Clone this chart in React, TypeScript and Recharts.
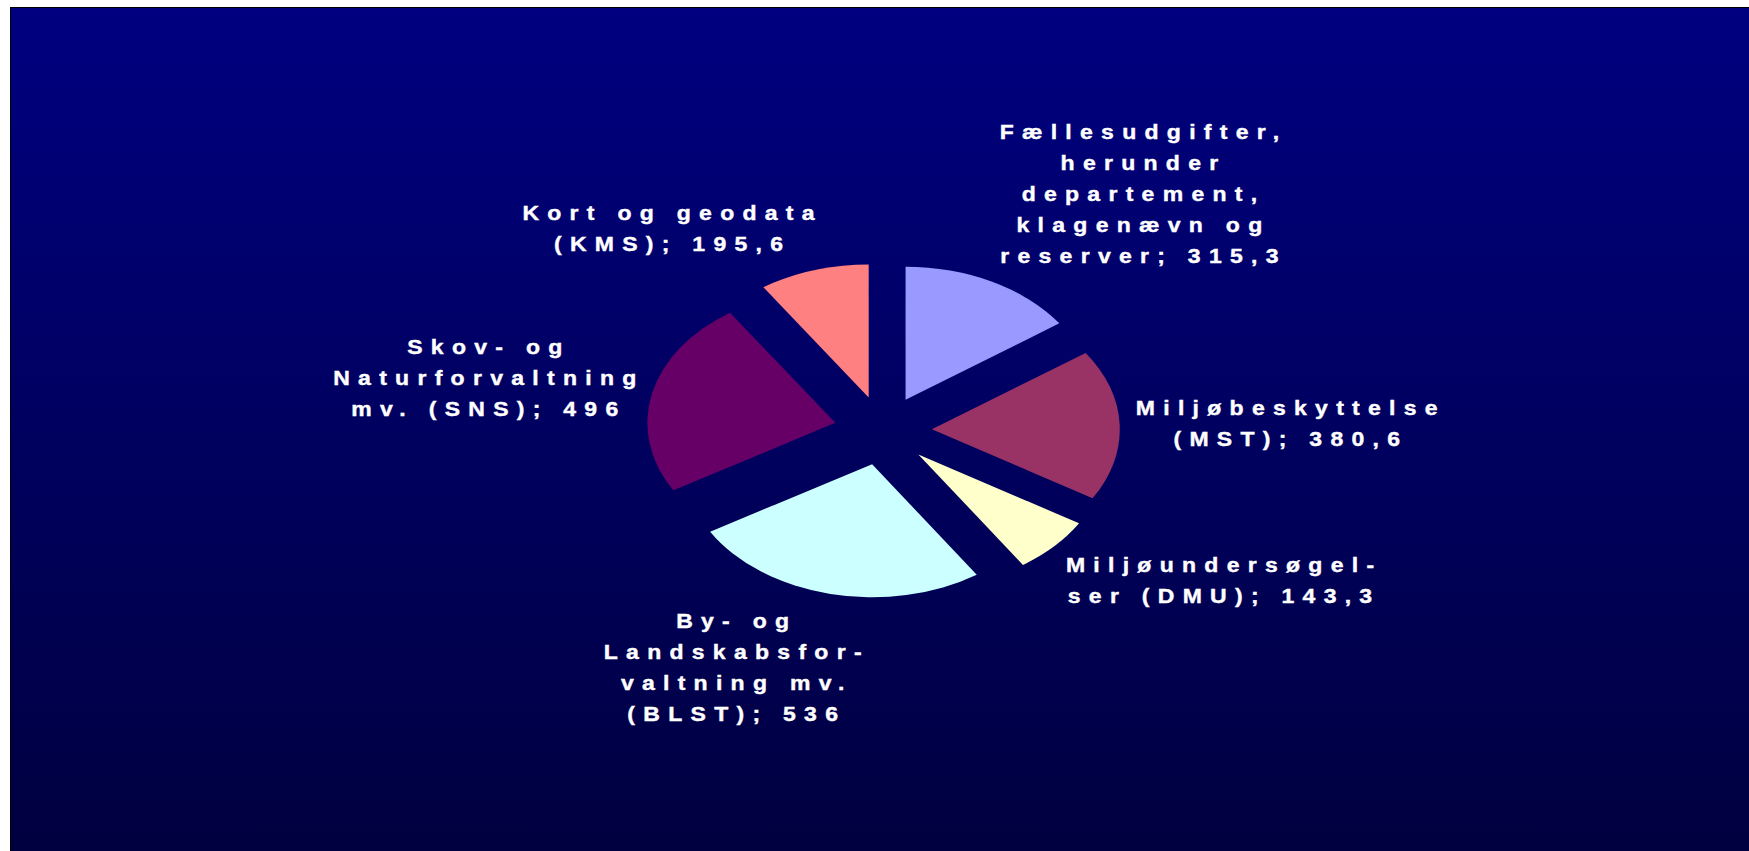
import { PieChart, Pie, Cell } from "recharts";

// Miljøministeriets udgifter fordelt på områder (mio. kr.). Exploded pie,
// drawn wider than tall like the original slide, labels outside each slice.

const CATEGORIES = [
  "Fællesudgifter,\nherunder\ndepartement,\nklagenævn og\nreserver",
  "Miljøbeskyttelse\n(MST)",
  "Miljøundersøgel-\nser (DMU)",
  "By- og\nLandskabsfor-\nvaltning mv.\n(BLST)",
  "Skov- og\nNaturforvaltning\nmv. (SNS)",
  "Kort og geodata\n(KMS)",
];
const VALUES = [315.3, 380.6, 143.3, 536, 496, 195.6];
const COLORS = ["#9999FF", "#993366", "#FFFFCC", "#CCFFFF", "#660066", "#FF8080"];

const data = CATEGORIES.map((name, i) => ({ name, value: VALUES[i] }));

const W = 1738;
const H = 843;
const CX = 872;
const CY = 422.5;
const R = 133;
const STRETCH = 1.413; // horizontal scale of the pie
const EXPLODE = 34.6;
const LABEL_R = 179;
const FONT = 'Arial, "Liberation Sans", sans-serif';
const FS = 20;
const TEXT_SX = 1.15; // labels are a little wider than plain Arial too
const LS = 7.2;
const LH = 31;
const RAD = Math.PI / 180;

function ExplodedSector(props: any) {
  const { cx, cy, outerRadius, startAngle, endAngle, fill } = props;
  const mid = props.midAngle ?? (startAngle + endAngle) / 2;
  const ox = cx + STRETCH * EXPLODE * Math.cos(mid * RAD);
  const oy = cy - EXPLODE * Math.sin(mid * RAD);
  const px = (a: number) => ox + STRETCH * outerRadius * Math.cos(a * RAD);
  const py = (a: number) => oy - outerRadius * Math.sin(a * RAD);
  const large = Math.abs(startAngle - endAngle) > 180 ? 1 : 0;
  const sweep = startAngle > endAngle ? 1 : 0;
  const d =
    `M${ox},${oy}L${px(startAngle)},${py(startAngle)}` +
    `A${STRETCH * outerRadius},${outerRadius} 0 ${large} ${sweep} ${px(endAngle)},${py(endAngle)}Z`;
  return <path d={d} fill={fill} stroke="none" />;
}

let measureCtx: CanvasRenderingContext2D | null = null;
function lineWidth(s: string) {
  if (!measureCtx) measureCtx = document.createElement("canvas").getContext("2d");
  if (!measureCtx) return s.length * 20;
  measureCtx.font = `bold ${FS}px ${FONT}`;
  return TEXT_SX * (measureCtx.measureText(s).width + (s.length - 1) * LS);
}

const fmt = (v: number) => String(v).replace(".", ",");

function renderLabel(props: any) {
  const { cx, cy, midAngle, index } = props;
  const name = props.payload?.name ?? props.name;
  const value = props.payload?.value ?? props.value;
  const lines = String(name).split("\n");
  lines[lines.length - 1] += "; " + fmt(value);
  const cos = Math.cos(midAngle * RAD);
  const sin = Math.sin(midAngle * RAD);
  const hw = Math.max(...lines.map(lineWidth)) / 2;
  const hh = (lines.length * LH) / 2;
  // anchor on a wider ellipse, then push the text block outwards
  const x = cx + STRETCH * LABEL_R * cos + Math.sign(cos) * hw * Math.min(1, 3.28 * Math.abs(cos));
  const y = cy - LABEL_R * sin - Math.sign(sin) * hh * Math.min(1, 1.23 * Math.abs(sin));
  return (
    <text
      key={`lbl-${index}`}
      fill="#FFFFFF"
      stroke="#FFFFFF"
      strokeWidth={0.4}
      fontFamily={FONT}
      fontSize={FS}
      fontWeight="bold"
      letterSpacing={LS}
      textAnchor="middle"
      transform={`matrix(${TEXT_SX},0,0,1,${x * (1 - TEXT_SX)},0)`}
    >
      {lines.map((ln, i) => (
        <tspan key={i} x={x + LS / 2} y={y + (i - (lines.length - 1) / 2) * LH + 7}>
          {ln}
        </tspan>
      ))}
    </text>
  );
}

export default function App() {
  return (
    <div
      style={{
        position: "fixed",
        left: 10,
        top: 7,
        width: W,
        height: H,
        borderLeft: "1px solid #000",
        borderTop: "1px solid #000",
        background: "linear-gradient(#000080, #000040)",
      }}
    >
      <PieChart width={W} height={H} margin={{ top: 0, right: 0, bottom: 0, left: 0 }}>
        <Pie
          data={data}
          dataKey="value"
          nameKey="name"
          cx={CX}
          cy={CY}
          outerRadius={R}
          startAngle={90}
          endAngle={-270}
          stroke="none"
          isAnimationActive={false}
          labelLine={false}
          label={renderLabel}
          shape={ExplodedSector}
          activeShape={ExplodedSector}
          inactiveShape={ExplodedSector}
        >
          {data.map((d, i) => (
            <Cell key={d.name} fill={COLORS[i]} />
          ))}
        </Pie>
      </PieChart>
    </div>
  );
}
